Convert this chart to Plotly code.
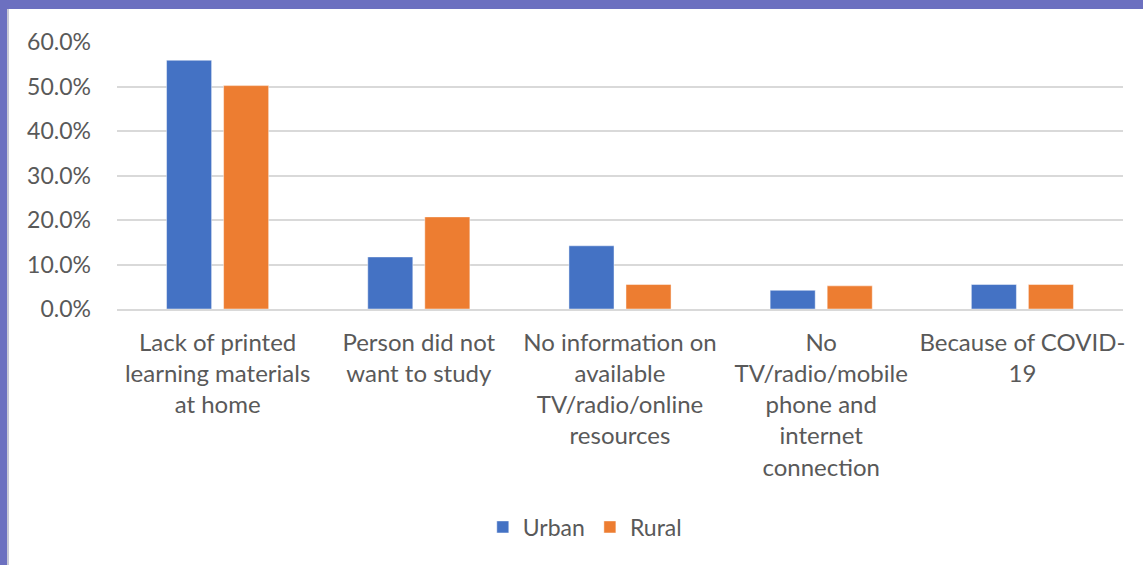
import plotly.graph_objects as go

# Reasons for not studying, urban vs rural share of respondents
categories = [
    "Lack of printed<br>learning materials<br>at home",
    "Person did not<br>want to study",
    "No information on<br>available<br>TV/radio/online<br>resources",
    "No<br>TV/radio/mobile<br>phone and<br>internet<br>connection",
    "Because of COVID-<br>19",
]
urban = [0.559, 0.117, 0.142, 0.042, 0.055]
rural = [0.502, 0.207, 0.055, 0.052, 0.055]
y_ticks = [0.0, 0.1, 0.2, 0.3, 0.4, 0.5, 0.6]

W, H = 1143, 565
L, R, T, B = 117, 20, 42, 256
plot_w = W - L - R
plot_h = H - T - B


def px_x(p):
    return (p - L) / plot_w


def px_y(p):
    return (H - B - p) / plot_h


FONT = "Lato"
GREY_TXT = "#595959"
GRID = "#d9d9d9"

fig = go.Figure()
fig.add_trace(go.Bar(
    name="Urban", x=categories, y=urban,
    marker=dict(color="#4472C4", line=dict(color="rgba(255,255,255,0.45)", width=1)),
))
fig.add_trace(go.Bar(
    name="Rural", x=categories, y=rural,
    marker=dict(color="#ED7D31", line=dict(color="rgba(255,255,255,0.45)", width=1)),
))

# slide-style frame: purple band on top/left, white chart card
shapes = [
    dict(type="rect", xref="paper", yref="paper",
         x0=px_x(8), x1=px_x(W + 5), y0=px_y(9), y1=px_y(H + 5),
         fillcolor="white", line=dict(width=0), layer="below"),
    dict(type="line", xref="paper", yref="paper",
         x0=px_x(8), x1=px_x(8), y0=px_y(9), y1=px_y(H + 5),
         line=dict(color="#c9c9d6", width=2), layer="below"),
]

fig.update_layout(
    width=W, height=H, autosize=False,
    margin=dict(l=L, r=R, t=T, b=B, pad=0),
    paper_bgcolor="#6C70C0",
    plot_bgcolor="white",
    barmode="group",
    bargap=0.433,
    bargroupgap=0.21,
    font=dict(family=FONT, color=GREY_TXT, size=23),
    shapes=shapes,
    legend=dict(
        orientation="h", x=0.465, xanchor="center", y=px_y(527), yanchor="middle",
        font=dict(size=23, color=GREY_TXT), bgcolor="rgba(0,0,0,0)",
        itemwidth=30, traceorder="normal",
    ),
    xaxis=dict(
        type="category", showgrid=False, showline=True, linecolor=GRID, linewidth=2,
        tickfont=dict(size=24, color=GREY_TXT, family=FONT), ticks="",
        ticklabelstandoff=11,
    ),
    yaxis=dict(
        range=[0, 0.6], tickvals=y_ticks, tickformat=".1%",
        showgrid=True, gridcolor=GRID, gridwidth=2, zeroline=False,
        tickfont=dict(size=23, color=GREY_TXT, family=FONT),
        ticklabelstandoff=25, ticks="",
    ),
)

fig.write_html("out.html")
